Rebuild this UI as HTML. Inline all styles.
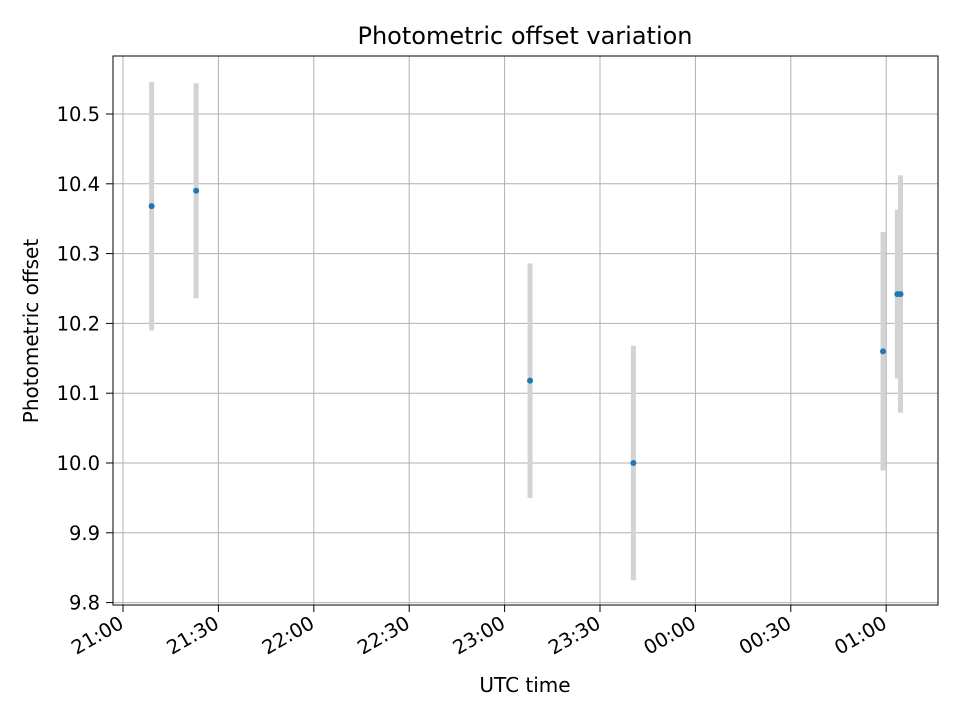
<!DOCTYPE html>
<html><head><meta charset="utf-8">
<style>
body{margin:0;background:#fff;}
svg text{font-family:"DejaVu Sans","Liberation Sans",sans-serif;fill:#000;}
</style></head>
<body>
<svg id="chart" width="960" height="720" viewBox="0 0 960 720">
<rect width="960" height="720" fill="#fff"/>
<g id="grid"></g>
<g id="bars"></g>
<g id="pts"></g>
<rect x="113" y="56" width="825" height="549" fill="none" stroke="#000" stroke-width="1"/>
<g id="axes"></g>
<text x="525" y="44" text-anchor="middle" font-size="24">Photometric offset variation</text>
<text x="525" y="692" text-anchor="middle" font-size="20">UTC time</text>
<text transform="translate(38,331) rotate(-90)" text-anchor="middle" font-size="20">Photometric offset</text>
</svg>
<script>
// minutes after 21:00
const times = [9, 23, 128, 160.5, 239, 243.5, 244.5];
const values = [10.368, 10.39, 10.118, 10.0, 10.16, 10.242, 10.242];
const errors = [0.178, 0.154, 0.168, 0.168, 0.171, 0.121, 0.17];
const yTicks = [9.8, 9.9, 10.0, 10.1, 10.2, 10.3, 10.4, 10.5];
const xTickMins = [0, 30, 60, 90, 120, 150, 180, 210, 240];
const xTickLabels = ["21:00","21:30","22:00","22:30","23:00","23:30","00:00","00:30","01:00"];

const NS = "http://www.w3.org/2000/svg";
const X = m => 123 + m * (95.4 / 30);
const Y = v => 463 - (v - 10.0) * 698;
function mk(tag, attrs, parent) {
  const e = document.createElementNS(NS, tag);
  for (const k in attrs) e.setAttribute(k, attrs[k]);
  document.getElementById(parent).appendChild(e);
  return e;
}
yTicks.forEach((v, i) => {
  const y = Y(v);
  const g = mk("line", {x1:113, x2:938, y1:y, y2:y, stroke:"#b0b0b0", "stroke-width":1}, "grid");
  
  
  mk("line", {x1:106, x2:113, y1:y, y2:y, stroke:"#000"}, "axes");
  const t = mk("text", {x:100, y:y+7, "text-anchor":"end", "font-size":19.5}, "axes");
  t.textContent = v.toFixed(1);
  
  
});
xTickMins.forEach((m, i) => {
  const x = X(m);
  const g = mk("line", {x1:x, x2:x, y1:56, y2:605, stroke:"#b0b0b0", "stroke-width":1}, "grid");
  
  
  mk("line", {x1:x, x2:x, y1:605, y2:612, stroke:"#000"}, "axes");
  const ax = x + 2, ay = 627;
  const t = mk("text", {x:ax, y:ay, "text-anchor":"end", "font-size":19.5, transform:`rotate(-30 ${ax} ${ay})`}, "axes");
  t.textContent = xTickLabels[i];
  
  
});
times.forEach((m, i) => {
  const x = X(m);
  const b = mk("line", {x1:x, x2:x, y1:Y(values[i]+errors[i]), y2:Y(values[i]-errors[i]), stroke:"#d3d3d3", "stroke-width":5}, "bars");
  
  
  const p = mk("circle", {cx:x, cy:Y(values[i]), r:3, fill:"#1f77b4"}, "pts");
  
  
});
</script>
</body></html>
